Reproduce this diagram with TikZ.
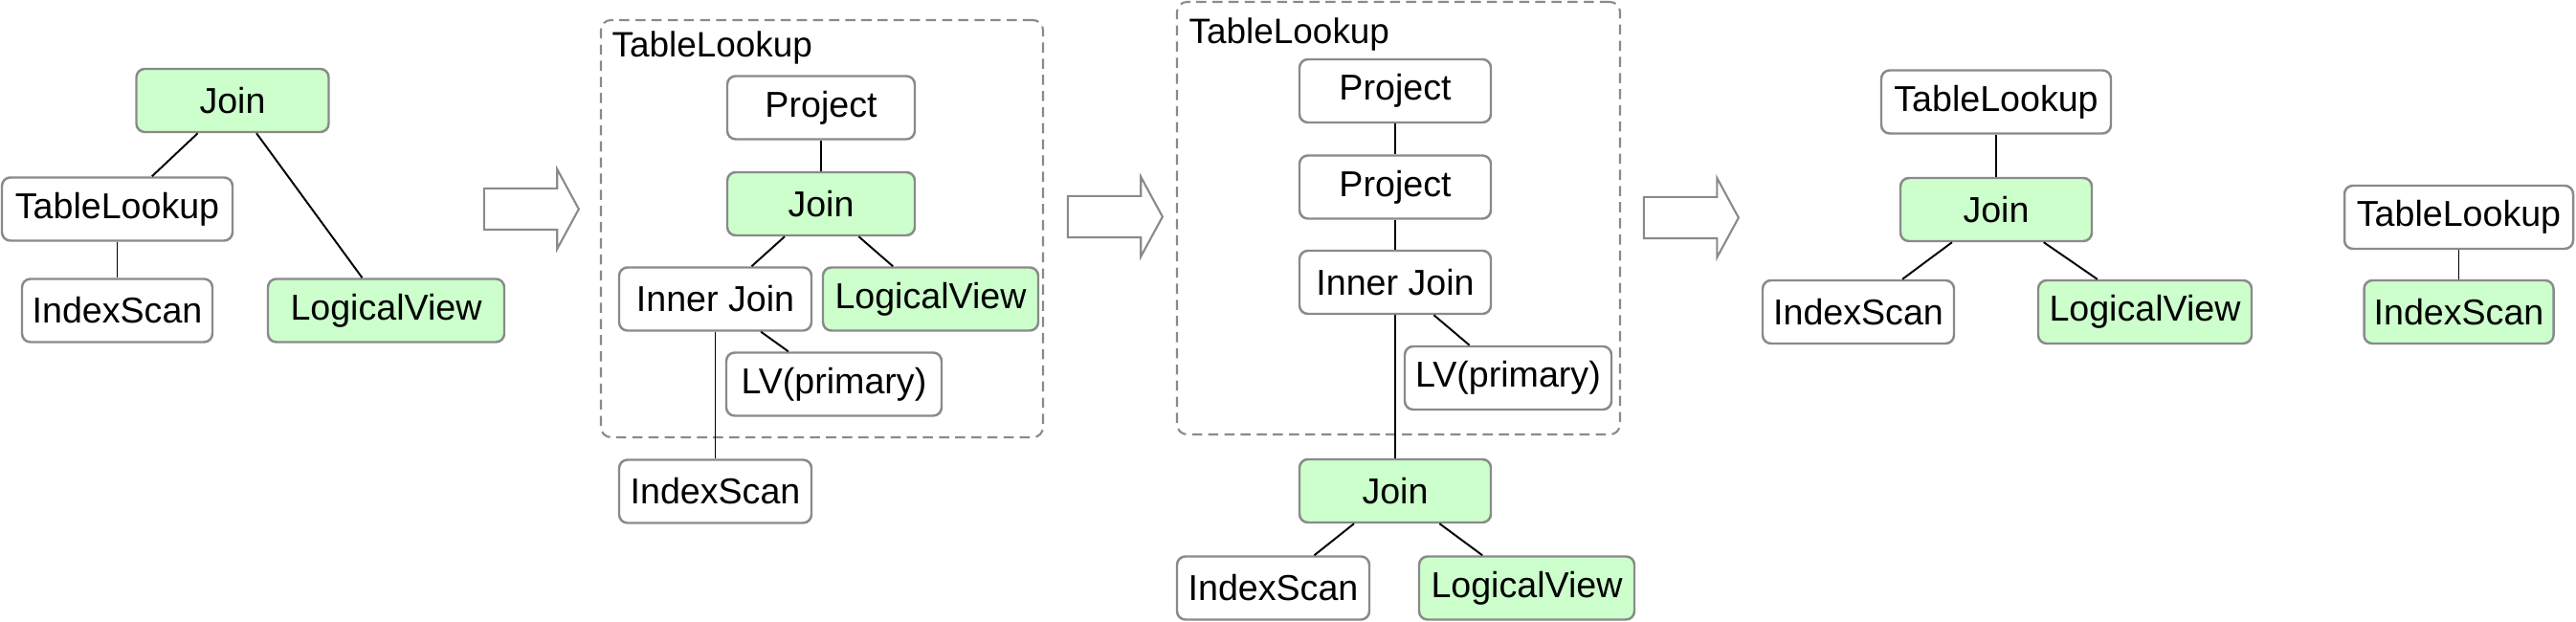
\documentclass[tikz,border=0pt]{standalone}
\usepackage{fontspec}
\setmainfont{Liberation Sans}
\usetikzlibrary{shapes.arrows}
\definecolor{opgreen}{HTML}{CCFFCC}
\definecolor{opgray}{HTML}{8A8A8A}

\begin{document}
\begin{tikzpicture}[
    box/.style={draw=opgray, line width=0.7pt, rounded corners=2.5pt, minimum width=#1, minimum height=0.66cm, inner sep=0pt, font=\fontsize{10.7}{12}\selectfont, fill=white},
    box/.default=2cm,
    gbox/.style={box=#1, fill=opgreen},
    gbox/.default=2cm,
    link/.style={line width=0.55pt},
    group/.style={draw=opgray, line width=0.6pt, dashed, dash pattern=on 3pt off 1.8pt, rounded corners=3pt},
    bigarrow/.style={single arrow, draw=opgray, line width=0.6pt, minimum height=0.99cm, single arrow head extend=0.2cm, single arrow tip angle=123, inner xsep=0pt, inner ysep=0.205cm},
    lbl/.style={anchor=base west, inner sep=0pt, font=\fontsize{10.5}{12}\selectfont}
]
\useasboundingbox (0,0) rectangle (26.92,6.5);

% original plan
\node[gbox=2.01cm] (join1) at (2.43,5.45) {Join};
\node[box=2.41cm] (tl1) at (1.225,4.315) {TableLookup};
\node[box=1.99cm] (is1) at (1.225,3.255) {IndexScan};
\node[gbox=2.47cm] (lv1) at (4.035,3.255) {LogicalView};
\draw[link] (join1) -- (tl1);
\draw[link] (join1) -- (lv1);
\draw[link] (tl1) -- (is1);

\node[bigarrow] (step1) at (5.495,4.315) {};

% join pushed into the lookup
\node[group, minimum width=4.62cm, minimum height=4.36cm] (grp2) at (8.59,4.11) {};
\node[lbl] (grp2title) at (6.39,5.90) {TableLookup};
\node[box=1.96cm] (proj2) at (8.58,5.375) {Project};
\node[gbox=1.96cm] (join2) at (8.58,4.37) {Join};
\node[box=2.01cm] (ij2) at (7.475,3.375) {Inner Join};
\node[gbox=2.25cm] (lv2) at (9.725,3.375) {LogicalView};
\node[box=2.25cm] (lvp2) at (8.715,2.485) {LV(primary)};
\node[box=2.01cm] (is2) at (7.475,1.365) {IndexScan};
\draw[link] (proj2) -- (join2);
\draw[link] (join2) -- (ij2);
\draw[link] (join2) -- (lv2);
\draw[link] (ij2) -- (lvp2);
\draw[link] (ij2) -- (is2);

\node[bigarrow] (step2) at (11.595,4.235) {};

% join moved below the lookup
\node[group, minimum width=4.63cm, minimum height=4.52cm] (grp3) at (14.615,4.22) {};
\node[lbl] (grp3title) at (12.42,6.04) {TableLookup};
\node[box=2cm] (proj3a) at (14.58,5.55) {Project};
\node[box=2cm] (proj3b) at (14.58,4.545) {Project};
\node[box=2cm] (ij3) at (14.58,3.55) {Inner Join};
\node[box=2.16cm] (lvp3) at (15.76,2.55) {LV(primary)};
\node[gbox=2cm] (join3) at (14.58,1.37) {Join};
\node[box=2.01cm] (is3) at (13.305,0.355) {IndexScan};
\node[gbox=2.25cm] (lv3) at (15.955,0.355) {LogicalView};
\draw[link] (proj3a) -- (proj3b);
\draw[link] (proj3b) -- (ij3);
\draw[link] (ij3) -- (lvp3);
\draw[link] (ij3) -- (join3);
\draw[link] (join3) -- (is3);
\draw[link] (join3) -- (lv3);

\node[bigarrow] (step3) at (17.615,4.225) {};

% final plans
\node[box=2.4cm] (tl4) at (20.86,5.435) {TableLookup};
\node[gbox=2cm] (join4) at (20.86,4.31) {Join};
\node[box=2cm] (is4) at (19.42,3.24) {IndexScan};
\node[gbox=2.23cm] (lv4) at (22.415,3.24) {LogicalView};
\draw[link] (tl4) -- (join4);
\draw[link] (join4) -- (is4);
\draw[link] (join4) -- (lv4);

\node[box=2.39cm] (tl5) at (25.695,4.23) {TableLookup};
\node[gbox=1.98cm] (is5) at (25.695,3.24) {IndexScan};
\draw[link] (tl5) -- (is5);
\end{tikzpicture}
\end{document}
